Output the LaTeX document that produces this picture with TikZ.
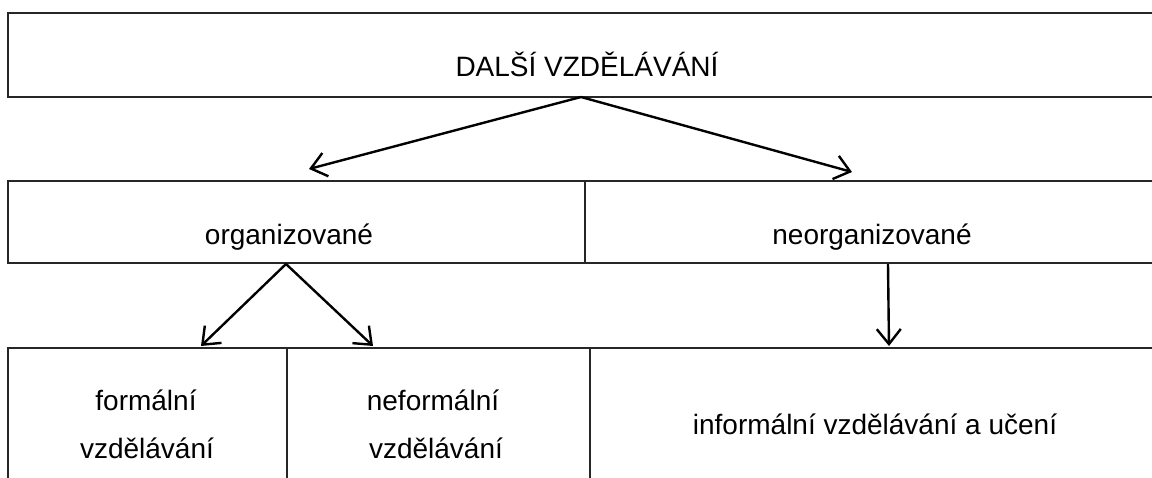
\documentclass[tikz,border=0pt]{standalone}
\usepackage{fontspec}
\setmainfont{Liberation Sans}
\usetikzlibrary{arrows.meta}
\tikzset{
  frame/.style={line width=2pt, draw=black!85},
  conn/.style={line width=2.4pt, -{Straight Barb[length=15pt,width=24pt,line width=2.4pt]}},
  lbl/.style={font=\fontsize{28}{48}\selectfont, inner sep=0pt, align=center, text=black},
}
\begin{document}
\begin{tikzpicture}[x=1pt,y=-1pt]
\useasboundingbox (0,0) rectangle (1152,477);
\begin{scope}
\clip (0,0) rectangle (1152,477);
% top box
\draw[frame] (1160,13) -- (8,13) -- (8,97) -- (1160,97);
% middle row
\draw[frame] (1160,181) -- (8,181) -- (8,263) -- (1160,263);
\draw[frame] (585,181) -- (585,263);
% bottom row
\draw[frame] (1160,348) -- (8,348) -- (8,485);
\draw[frame] (287,348) -- (287,485);
\draw[frame] (590,348) -- (590,485);
\end{scope}
% texts
\node[lbl, anchor=base] (dv) at (587,76) {DALŠÍ VZDĚLÁVÁNÍ};
\node[lbl, anchor=base] (org) at (289,244) {organizované};
\node[lbl, anchor=base] (neorg) at (872,244) {neorganizované};
\node[lbl, anchor=base] (form1) at (146,410) {formální};
\node[lbl, anchor=base] (form2) at (147,458) {vzdělávání};
\node[lbl, anchor=base] (neform1) at (433,410) {neformální};
\node[lbl, anchor=base] (neform2) at (436,458) {vzdělávání};
\node[lbl, anchor=base] (inf) at (875,434) {informální vzdělávání a učení};
% connector points
\coordinate (dvb) at (581,97);
\coordinate (orgt) at (309,169);
\coordinate (neorgt) at (852,172);
\coordinate (orgb) at (286,264);
\coordinate (formt) at (201,346);
\coordinate (neformt) at (373,346);
\coordinate (neorgb) at (888,264);
\coordinate (inft) at (889,346);
\draw[conn] (dvb) -- (orgt);
\draw[conn] (dvb) -- (neorgt);
\draw[conn] (orgb) -- (formt);
\draw[conn] (orgb) -- (neformt);
\draw[conn] (neorgb) -- (inft);
\end{tikzpicture}
\end{document}
